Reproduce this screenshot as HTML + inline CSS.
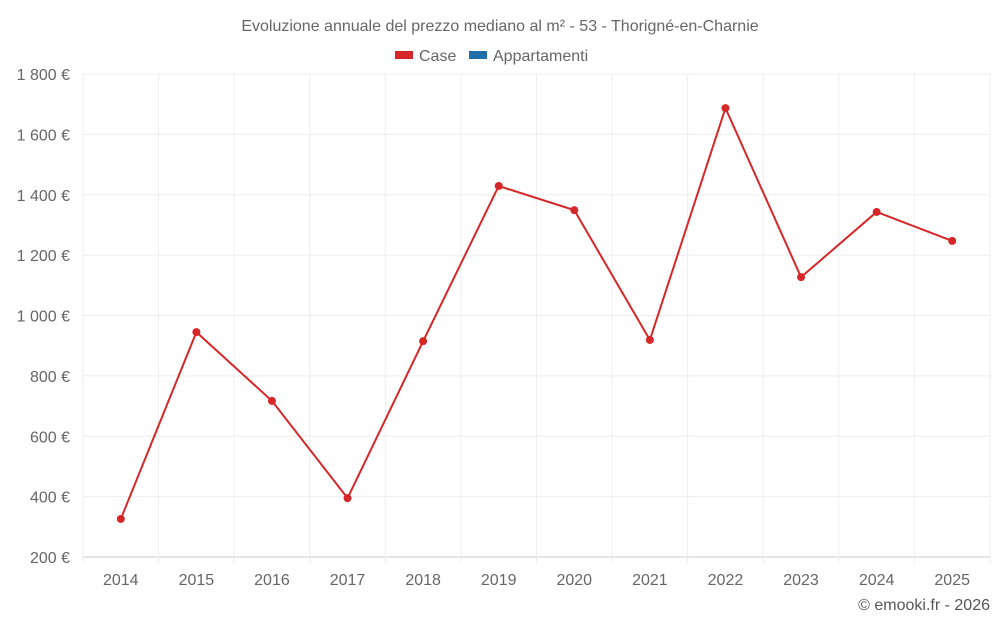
<!DOCTYPE html>
<html><head><meta charset="utf-8"><style>
body{margin:0;background:#fff;font-family:"Liberation Sans",sans-serif;}
svg text{font-family:"Liberation Sans",sans-serif;}
</style></head><body>
<svg id="c" width="1000" height="625">
<text x="500" y="31" text-anchor="middle" font-size="16" fill="#666">Evoluzione annuale del prezzo mediano al m² - 53 - Thorigné-en-Charnie</text>
<g><rect x="395" y="51" width="18" height="8" fill="#d62728"/><text x="419" y="61" font-size="16" fill="#666">Case</text></g>
<g><rect x="469" y="51" width="18" height="8" fill="#1f6fa8"/><text x="493" y="61" font-size="16" fill="#666">Appartamenti</text></g>
<g id="grid"></g><g id="marks"></g>
<text x="990" y="610" text-anchor="end" font-size="16" fill="#555">© emooki.fr - 2026</text>
</svg>
<script>
const years=[2014,2015,2016,2017,2018,2019,2020,2021,2022,2023,2024,2025];
const caseValues=[326,945,717,395,915,1429,1349,919,1687,1127,1343,1247];
const yTicks=[200,400,600,800,1000,1200,1400,1600,1800];
const NS="http://www.w3.org/2000/svg";
const L=83,R=990,T=74,B=557;
const step=(R-L)/years.length;
const x=i=>L+step*(i+0.5);
const y=v=>B-(v-200)/1600*(B-T);
const g=document.getElementById('grid'),m=document.getElementById('marks');
function el(t,a,p){const e=document.createElementNS(NS,t);for(const k in a)e.setAttribute(k,a[k]);p.appendChild(e);return e;}
yTicks.forEach(v=>{
 const ln=el('line',{x1:L,x2:R,y1:y(v),y2:y(v),stroke:v===200?'#ccc':'#eee'},g);
 
 
 const t=el('text',{x:70,y:y(v)+6,'text-anchor':'end','font-size':16,fill:'#666'},g);
 t.textContent=v.toLocaleString('fr-FR').replace(/\s/g,' ')+' €';
 
 
});
for(let i=0;i<=years.length;i++){
 const ln=el('line',{x1:L+step*i,x2:L+step*i,y1:T,y2:B+(i<years.length+1?6:0),stroke:'#eee'},g);
 
 
}
years.forEach((yr,i)=>{
 const t=el('text',{x:x(i),y:585,'text-anchor':'middle','font-size':16,fill:'#666'},g);
 t.textContent=yr;
 
 
});
const pl=el('polyline',{points:caseValues.map((v,i)=>x(i)+','+y(v)).join(' '),fill:'none',stroke:'#d62728','stroke-width':2},m);


caseValues.forEach((v,i)=>{
 const c=el('circle',{cx:x(i),cy:y(v),r:4,fill:'#d62728'},m);
 
 
});
</script>
</body></html>
